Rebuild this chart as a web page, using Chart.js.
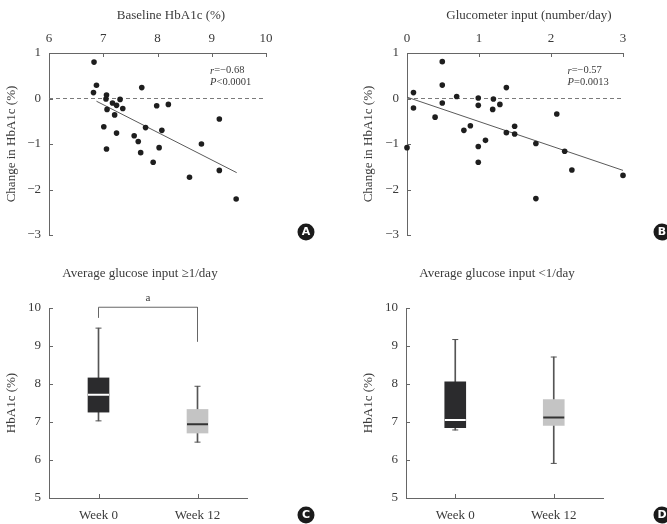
<!DOCTYPE html>
<html>
<head>
<meta charset="utf-8">
<script src="https://cdn.jsdelivr.net/npm/chart.js@4"></script>
<style>
  body { margin: 0; background: #fff; }
  .panel { position: absolute; }
  #pa { left: 0; top: 0; width: 334px; height: 260px; }
  #pb { left: 334px; top: 0; width: 333px; height: 260px; }
  #pc { left: 0; top: 260px; width: 334px; height: 264px; }
  #pd { left: 334px; top: 260px; width: 333px; height: 264px; }
</style>
</head>
<body>
<div class="panel" id="pa"><canvas id="chart-a"></canvas></div>
<div class="panel" id="pb"><canvas id="chart-b"></canvas></div>
<div class="panel" id="pc"><canvas id="chart-c"></canvas></div>
<div class="panel" id="pd"><canvas id="chart-d"></canvas></div>
<script>
'use strict';

// --- A: baseline HbA1c vs change ---
const baseX = [6.83, 6.875, 6.82, 7.06, 7.05, 7.07, 7.17, 7.245, 7.31, 7.36, 7.21, 7.01, 7.245, 7.06,
  7.71, 7.78, 7.57, 7.645, 7.69, 7.985, 8.20, 8.08, 8.03, 7.92, 8.59, 8.81, 9.14, 9.14, 9.45];
const changeA = [0.80, 0.29, 0.13, 0.075, -0.01, -0.24, -0.10, -0.15, -0.02, -0.22, -0.36, -0.62, -0.76, -1.11,
  0.24, -0.64, -0.82, -0.945, -1.19, -0.16, -0.13, -0.70, -1.08, -1.40, -1.73, -1.00, -0.45, -1.58, -2.21];
const fitAX = [6.875, 9.46];
const fitAY = [-0.06, -1.63];

// --- B: glucometer input vs change ---
const glucoX = [0, 0.09, 0.09, 0.49, 0.49, 0.49, 0.39, 0.69, 0.79, 0.88, 0.99, 0.99, 0.99, 0.99,
  1.09, 1.20, 1.19, 1.29, 1.38, 1.38, 1.495, 1.495, 1.79, 1.79, 2.08, 2.19, 2.29, 3.0];
const changeB = [-1.08, 0.13, -0.21, 0.81, 0.295, -0.10, -0.41, 0.045, -0.70, -0.60, 0.01, -0.15, -1.055, -1.40,
  -0.92, -0.01, -0.24, -0.13, 0.24, -0.75, -0.61, -0.78, -0.99, -2.20, -0.34, -1.16, -1.57, -1.69];
const fitBX = [0, 3];
const fitBY = [0.03, -1.58];

// --- C / D: box plots ---
const weeks = ['Week 0', 'Week 12'];
const cMin = [7.03, 6.47], cQ1 = [7.26, 6.71], cMed = [7.72, 6.94], cQ3 = [8.16, 7.33], cMax = [9.47, 7.94];
const dMin = [6.79, 5.91], dQ1 = [6.85, 6.91], dMed = [7.05, 7.12], dQ3 = [8.06, 7.59], dMax = [9.17, 8.71];
const bracketX = ['Week 0', 'Week 0', 'Week 12', 'Week 12'];
const bracketY = [9.74, 10.02, 10.02, 9.12];

const SERIF = "'Liberation Serif', 'Times New Roman', serif";
const AXIS = '#666';
Chart.defaults.font.family = SERIF;
Chart.defaults.color = '#3a3a3a';

function fmtMinus(v) { return v < 0 ? '\u2212' + Math.abs(v) : String(v); }

/* ticks drawn inward, titles, stats and panel badges */
const extras = {
  id: 'extras',
  afterDraw(chart, args, o) {
    const ctx = chart.ctx, a = chart.chartArea;
    const xs = chart.scales.x, ys = chart.scales.y;
    ctx.save();
    ctx.strokeStyle = AXIS;
    ctx.lineWidth = 1;
    ctx.beginPath();
    xs.ticks.forEach(function(t, i) {
      const px = Math.round(xs.getPixelForTick(i)) + 0.5;
      if (xs.position === 'top') { ctx.moveTo(px, a.top); ctx.lineTo(px, a.top + 4); }
      else { ctx.moveTo(px, a.bottom); ctx.lineTo(px, a.bottom - 4); }
    });
    ys.ticks.forEach(function(t, i) {
      const py = Math.round(ys.getPixelForTick(i)) + 0.5;
      ctx.moveTo(a.left, py); ctx.lineTo(a.left + 4, py);
    });
    ctx.stroke();

    ctx.fillStyle = '#3a3a3a';
    ctx.textAlign = 'center';
    ctx.textBaseline = 'middle';
    ctx.font = '13px ' + SERIF;
    ctx.fillText(o.title, o.titleX, o.titleY);

    if (o.stat) {
      let px = xs.getPixelForValue(o.stat.x), py = ys.getPixelForValue(o.stat.y);
      ctx.textAlign = 'left';
      [[o.stat.k1, o.stat.v1], [o.stat.k2, o.stat.v2]].forEach(function(line, i) {
        ctx.font = 'italic 10.5px ' + SERIF;
        ctx.fillText(line[0], px, py + i * 11.5);
        const w = ctx.measureText(line[0]).width;
        ctx.font = '10.5px ' + SERIF;
        ctx.fillText(line[1], px + w, py + i * 11.5);
      });
    }

    if (o.sig) {
      const px = (xs.getPixelForValue(0) + xs.getPixelForValue(1)) / 2;
      ctx.textAlign = 'center';
      ctx.font = '11px ' + SERIF;
      ctx.fillText(o.sig.label, px, ys.getPixelForValue(o.sig.y));
    }

    ctx.beginPath();
    ctx.arc(o.badgeX, o.badgeY, 8.5, 0, Math.PI * 2);
    ctx.fillStyle = '#1b1b1b';
    ctx.fill();
    ctx.fillStyle = '#fff';
    ctx.textAlign = 'center';
    ctx.font = "bold 11px 'DejaVu Sans', sans-serif";
    ctx.fillText(o.badge, o.badgeX, o.badgeY + 0.5);
    ctx.restore();
  }
};
Chart.register(extras);

function scatterChart(id, o) {
  return new Chart(document.getElementById(id), {
    type: 'scatter',
    data: {
      datasets: [
        { data: o.xs.map(function(x, i) { return { x: x, y: o.ys[i] }; }), backgroundColor: '#1e1e1e', borderWidth: 0, pointRadius: 2.8, clip: false },
        { type: 'line', data: o.fx.map(function(x, i) { return { x: x, y: o.fy[i] }; }), borderColor: '#5a5a5a', borderWidth: 1, pointRadius: 0 },
        { type: 'line', data: [{ x: o.xMin, y: 0 }, { x: o.xMax, y: 0 }], borderColor: '#7a7a7a', borderWidth: 1, borderDash: [4, 3], pointRadius: 0 }
      ]
    },
    options: {
      responsive: true,
      maintainAspectRatio: false,
      animation: false,
      layout: { padding: o.pad },
      plugins: { legend: { display: false }, tooltip: { enabled: false }, extras: o.extras },
      scales: {
        x: {
          type: 'linear', position: 'top', min: o.xMin, max: o.xMax,
          ticks: { stepSize: 1, padding: 7, font: { size: 13 } },
          grid: { display: false, drawTicks: false }, border: { color: AXIS },
          afterFit: function(s) { s.height = 53; }
        },
        y: {
          min: -3, max: 1,
          ticks: { stepSize: 1, padding: 8, font: { size: 13 }, callback: fmtMinus },
          grid: { display: false, drawTicks: false }, border: { color: AXIS },
          title: { display: true, text: 'Change in HbA1c (%)', font: { size: 13 } },
          afterFit: function(s) { s.width = o.yWidth; }
        }
      }
    }
  });
}

function boxChart(id, o) {
  const datasets = [
    { type: 'line', data: o.med, showLine: false, pointStyle: 'line', pointRadius: 10.5, pointBorderColor: ['#ffffff', '#333333'], pointBorderWidth: 2 },
    { type: 'line', data: o.max, showLine: false, pointStyle: 'line', pointRadius: 3, pointBorderColor: '#555', pointBorderWidth: 1 },
    { type: 'line', data: o.min, showLine: false, pointStyle: 'line', pointRadius: 3, pointBorderColor: '#555', pointBorderWidth: 1 },
    { data: o.q1.map(function(v, i) { return [v, o.q3[i]]; }), backgroundColor: ['#2b2b2d', '#c4c4c4'], barThickness: 21, grouped: false },
    { data: o.min.map(function(v, i) { return [v, o.q1[i]]; }), backgroundColor: '#555', barThickness: 1, grouped: false },
    { data: o.q3.map(function(v, i) { return [v, o.max[i]]; }), backgroundColor: '#555', barThickness: 1, grouped: false }
  ];
  if (o.bracket) {
    datasets.push({ type: 'line', data: bracketX.map(function(x, i) { return { x: x, y: bracketY[i] }; }), borderColor: '#666', borderWidth: 1, pointRadius: 0, clip: false });
  }
  return new Chart(document.getElementById(id), {
    type: 'bar',
    data: { labels: weeks, datasets: datasets },
    options: {
      responsive: true,
      maintainAspectRatio: false,
      animation: false,
      layout: { padding: o.pad },
      plugins: { legend: { display: false }, tooltip: { enabled: false }, extras: o.extras },
      scales: {
        x: {
          ticks: { padding: 10, font: { size: 13 } },
          grid: { display: false, drawTicks: false }, border: { color: AXIS },
          afterFit: function(s) { s.height = 26; }
        },
        y: {
          min: 5, max: 10,
          ticks: { stepSize: 1, padding: 8, font: { size: 13 } },
          grid: { display: false, drawTicks: false }, border: { color: AXIS },
          title: { display: true, text: 'HbA1c (%)', font: { size: 13 } },
          afterFit: function(s) { s.width = 49; }
        }
      }
    }
  });
}

scatterChart('chart-a', {
  xs: baseX, ys: changeA, fx: fitAX, fy: fitAY, xMin: 6, xMax: 10,
  pad: { left: 0, right: 68, top: 0, bottom: 25 }, yWidth: 49,
  extras: { title: 'Baseline HbA1c (%)', titleX: 171, titleY: 16, badge: 'A', badgeX: 306, badgeY: 232,
    stat: { x: 8.97, y: 0.61, k1: 'r', v1: '=\u22120.68', k2: 'P', v2: '<0.0001' } }
});

scatterChart('chart-b', {
  xs: glucoX, ys: changeB, fx: fitBX, fy: fitBY, xMin: 0, xMax: 3,
  pad: { left: 23, right: 44, top: 0, bottom: 25 }, yWidth: 50,
  extras: { title: 'Glucometer input (number/day)', titleX: 195, titleY: 16, badge: 'B', badgeX: 328, badgeY: 232,
    stat: { x: 2.23, y: 0.61, k1: 'r', v1: '=\u22120.57', k2: 'P', v2: '=0.0013' } }
});

boxChart('chart-c', {
  min: cMin, q1: cQ1, med: cMed, q3: cQ3, max: cMax, bracket: true,
  pad: { left: 0, right: 87, top: 48, bottom: 0 },
  extras: { title: 'Average glucose input \u22651/day', titleX: 140, titleY: 14, badge: 'C', badgeX: 306, badgeY: 255,
    sig: { label: 'a', y: 10.26 } }
});

boxChart('chart-d', {
  min: dMin, q1: dQ1, med: dMed, q3: dQ3, max: dMax, bracket: false,
  pad: { left: 23, right: 64, top: 48, bottom: 0 },
  extras: { title: 'Average glucose input <1/day', titleX: 163, titleY: 14, badge: 'D', badgeX: 328, badgeY: 255 }
});
</script>
</body>
</html>
